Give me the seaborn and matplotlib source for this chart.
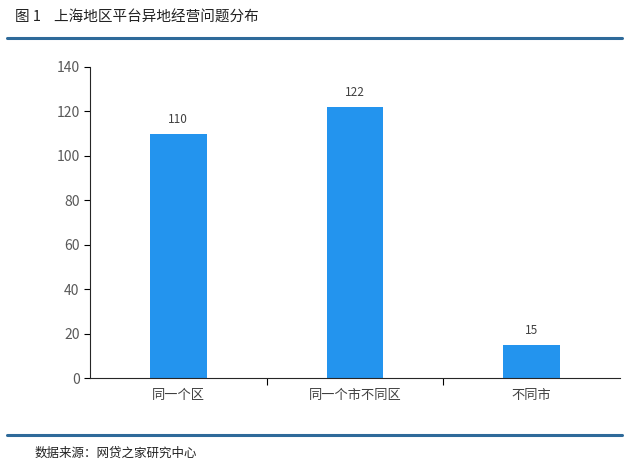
import matplotlib.pyplot as plt
import seaborn as sns
from matplotlib.lines import Line2D

categories = ['同一个区', '同一个市不同区', '不同市']
counts = [110, 122, 15]
yticks = [0, 20, 40, 60, 80, 100, 120, 140]

sns.set_style('ticks')
plt.rcParams['font.family'] = ['Noto Sans CJK SC', 'DejaVu Sans']

fig = plt.figure(figsize=(6.35, 4.65), dpi=100)
ax = fig.add_axes([0.1417, 0.187, 0.8343, 0.669])

sns.barplot(x=categories, y=counts, color='#2394EE', width=0.32, saturation=1,
            linewidth=0, ax=ax)

# 数值标签
for i, v in enumerate(counts):
    ax.text(i, v + 3.5, str(v), ha='center', va='bottom', fontsize=8.5, color='#404040')

ax.set_xlim(-0.5, 2.5)
ax.set_ylim(0, 140)
ax.set_yticks(yticks)
ax.tick_params(axis='y', labelsize=10, labelcolor='#595959', color='black', length=4, width=0.8)
ax.tick_params(axis='x', which='major', length=0, labelsize=9.5, labelcolor='#404040', pad=8)
ax.set_xticks([0.5, 1.5], minor=True)
ax.tick_params(axis='x', which='minor', length=5, width=0.8, color='black')
for s in ['top', 'right']:
    ax.spines[s].set_visible(False)
ax.spines['left'].set_linewidth(0.8)
ax.spines['bottom'].set_linewidth(0.8)
ax.set_xlabel('')
ax.set_ylabel('')

fig.text(0.024, 0.963, '图 1    上海地区平台异地经营问题分布', fontsize=10.5, color='#222222', va='center')
fig.add_artist(Line2D([0.011, 0.98], [0.918, 0.918], color='#2E6A9A', linewidth=2.2, transform=fig.transFigure))
fig.add_artist(Line2D([0.011, 0.98], [0.064, 0.064], color='#2E6A9A', linewidth=2.2, transform=fig.transFigure))
fig.text(0.055, 0.025, '数据来源：网贷之家研究中心', fontsize=9, color='#222222', va='center')

fig.savefig('out.png', dpi=100, facecolor='white')
